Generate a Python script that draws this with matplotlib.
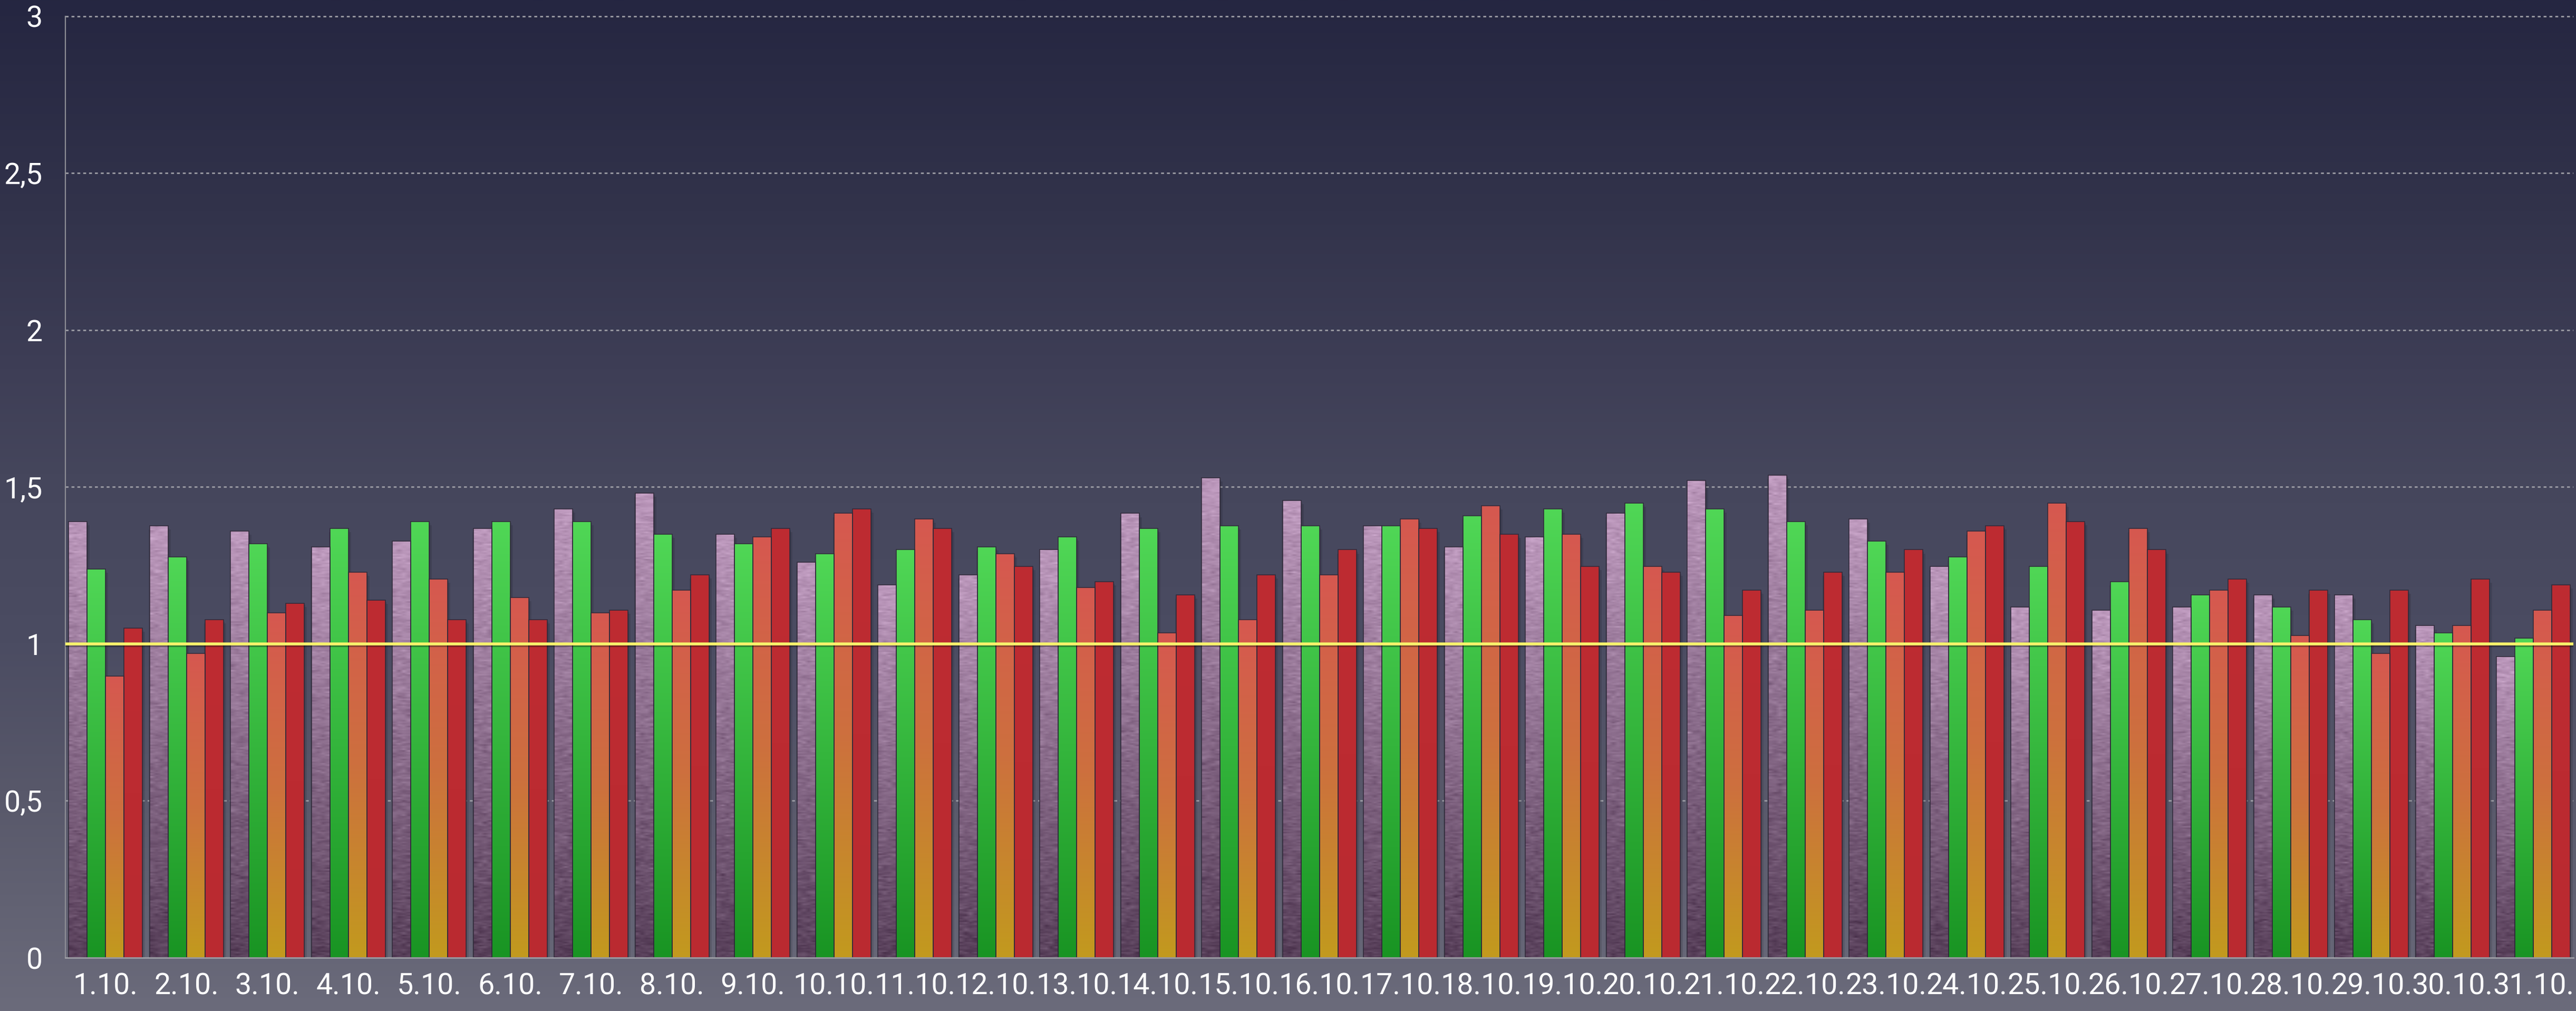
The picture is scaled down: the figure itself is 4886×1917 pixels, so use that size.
import numpy as np
import matplotlib
matplotlib.use("Agg")
import matplotlib.pyplot as plt
from matplotlib import patheffects

# daily ratios for October, four series per day
days = [f"{d}.10." for d in range(1, 32)]

pink = [1.39, 1.376, 1.359, 1.309, 1.327, 1.368, 1.43, 1.48, 1.349, 1.26, 1.188,
        1.22, 1.30, 1.416, 1.529, 1.457, 1.376, 1.309, 1.341, 1.416, 1.52, 1.538,
        1.399, 1.247, 1.117, 1.107, 1.117, 1.157, 1.157, 1.058, 0.959]
green = [1.238, 1.278, 1.319, 1.368, 1.39, 1.39, 1.39, 1.349, 1.319, 1.287, 1.30,
         1.309, 1.341, 1.368, 1.376, 1.376, 1.376, 1.408, 1.43, 1.448, 1.43, 1.39,
         1.327, 1.278, 1.247, 1.198, 1.157, 1.117, 1.077, 1.036, 1.018]
orange = [0.897, 0.969, 1.099, 1.228, 1.206, 1.148, 1.099, 1.171, 1.341, 1.416, 1.399,
          1.287, 1.179, 1.036, 1.077, 1.22, 1.399, 1.44, 1.349, 1.247, 1.09, 1.107,
          1.228, 1.359, 1.448, 1.368, 1.171, 1.027, 0.969, 1.058, 1.107]
red = [1.05, 1.077, 1.13, 1.139, 1.077, 1.077, 1.107, 1.22, 1.368, 1.43, 1.368,
       1.247, 1.198, 1.157, 1.22, 1.30, 1.368, 1.349, 1.247, 1.228, 1.171, 1.228,
       1.30, 1.376, 1.39, 1.30, 1.206, 1.171, 1.171, 1.206, 1.188]

yticks = [0, 0.5, 1, 1.5, 2, 2.5, 3]
ylabels = ["0", "0,5", "1", "1,5", "2", "2,5", "3"]

W, H = 4886, 1917
FONT = ["Roboto", "Lato", "DejaVu Sans"]


def ramp(stops, rows=256):
    """vertical colour ramp, row 0 = bottom; stops = [(pos, (r, g, b)), ...]"""
    pos = np.array([s[0] for s in stops])
    cols = np.array([s[1] for s in stops]) / 255.0
    t = np.linspace(0, 1, rows)
    out = np.stack([np.interp(t, pos, cols[:, k]) for k in range(3)], axis=1)
    return out[:, None, :]


fig = plt.figure(figsize=(W / 100, H / 100), dpi=100)

# backdrop gradient, dark navy at the top fading to grey
bg_pos = np.array([0, 400, 700, 900, 1220, 1500, 1917]) / H
bg_col = [(37, 38, 65), (50, 51, 75), (62, 62, 86), (69, 70, 92),
          (75, 76, 98), (88, 88, 106), (107, 107, 123)]
bg_img = ramp(list(zip(bg_pos, bg_col)), 600)
bg = fig.add_axes([0, 0, 1, 1], zorder=-10)
bg.imshow(bg_img, aspect="auto", extent=(0, 1, 0, 1), origin="upper",
          interpolation="bilinear")
bg.axis("off")

top_val = 3.02
ax_top = 30.8 - (top_val - 3) * 595
ax = fig.add_axes([124 / W, 1 - 1816 / H, (4881 - 124) / W, (1816 - ax_top) / H])
ax.patch.set_alpha(0)

x = np.arange(len(days))
width = 0.228
offsets = [-0.342, -0.114, 0.114, 0.342]

green_ramp = ramp([(0, (25, 148, 35)), (1, (80, 215, 86))])
orange_ramp = ramp([(0, (194, 154, 30)), (0.5, (205, 112, 62)), (1, (214, 88, 80))])
red_ramp = ramp([(0, (186, 42, 48)), (1, (190, 44, 50))])
pink_top = np.array([188, 152, 188]) / 255.0
pink_bot = np.array([88, 64, 90]) / 255.0

rng = np.random.default_rng(11)


def pink_texture(h):
    rows = max(int(h * 220), 10)
    t = np.linspace(0, 1, rows)[:, None, None]
    base = pink_bot + (pink_top - pink_bot) * t
    grain = rng.normal(0, 1, (rows, 4, 1)) * 0.032
    img = np.clip(base + grain, 0, 1)
    return np.broadcast_to(img, (rows, 4, 3)).copy()


series = [pink, green, orange, red]
fills = [None, green_ramp, orange_ramp, red_ramp]

for vals, off, fill in zip(series, offsets, fills):
    # soft drop shadow behind each bar
    ax.bar(x + off + 0.012, vals, width=width * 1.18, bottom=-0.012, color="black",
           alpha=0.10, zorder=2.0, linewidth=0)
    ax.bar(x + off + 0.006, vals, width=width * 1.06, bottom=-0.006, color="black",
           alpha=0.14, zorder=2.1, linewidth=0)
    bars = ax.bar(x + off, vals, width=width, facecolor="none",
                  edgecolor="#302a3a", linewidth=1.1, zorder=3)
    for rect, v in zip(bars, vals):
        x0 = rect.get_x()
        img = pink_texture(v) if fill is None else fill
        im = ax.imshow(img, extent=(x0, x0 + width, 0, v), origin="lower",
                       aspect="auto", interpolation="bilinear", zorder=2.5)
        im.set_clip_path(rect)

# reference line at 1
ax.axhline(1, color="#f8f36c", linewidth=4.0, zorder=5,
           path_effects=[patheffects.SimpleLineShadow(offset=(0, -2), alpha=0.35),
                         patheffects.Normal()])

ax.set_xlim(-0.496, len(days) - 1 + 0.495)
ax.set_ylim(0, top_val)

ax.set_yticks(yticks)
ax.set_yticklabels(ylabels)
ax.set_xticks(x)
ax.set_xticklabels(days)
ax.yaxis.grid(True, color="#9c9ca4", linestyle=(0, (2, 2)), linewidth=2.0)
ax.set_axisbelow(True)

ax.tick_params(axis="y", length=0, pad=31, labelsize=40, labelcolor="white")
ax.tick_params(axis="x", length=0, pad=20, labelsize=40, labelcolor="white")
for lab in ax.get_xticklabels() + ax.get_yticklabels():
    lab.set_family(FONT)
    lab.set_fontweight("normal")

for side in ("top", "right"):
    ax.spines[side].set_visible(False)
ax.spines["left"].set_color("#8d8d95")
ax.spines["left"].set_linewidth(1.6)
ax.spines["left"].set_bounds(0, 3)
ax.spines["bottom"].set_color("#9d9da5")
ax.spines["bottom"].set_linewidth(2.0)
ax.spines["bottom"].set_zorder(4)
ax.spines["bottom"].set_path_effects(
    [patheffects.SimplePatchShadow(offset=(0, -3), alpha=0.35), patheffects.Normal()])

fig.savefig("out.png", dpi=100)
